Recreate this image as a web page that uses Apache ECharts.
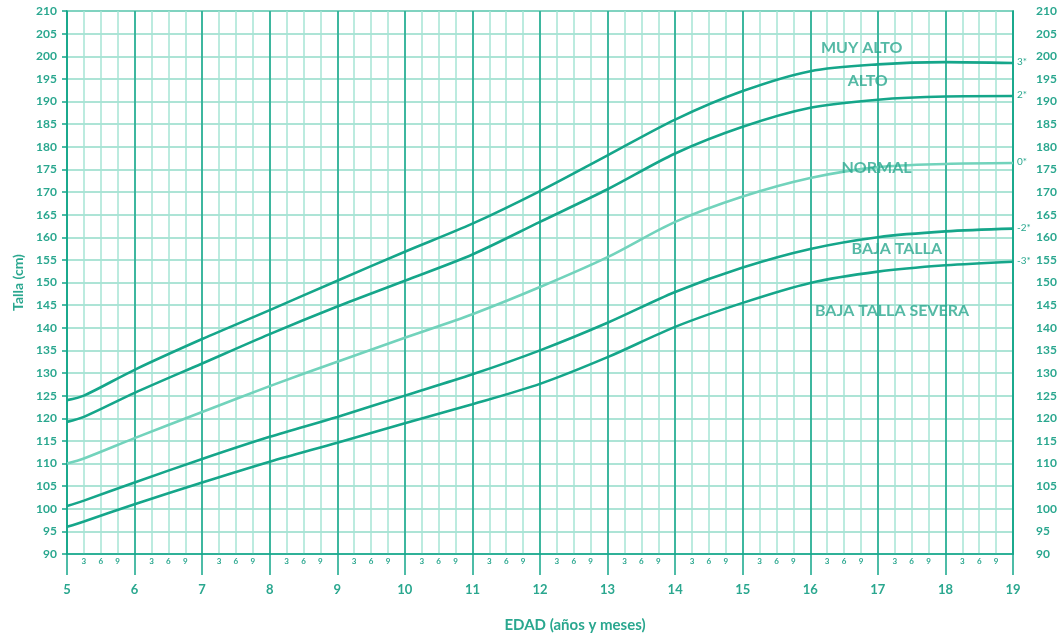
<!DOCTYPE html>
<html>
<head>
<meta charset="utf-8">
<script src="https://cdn.jsdelivr.net/npm/echarts@6/dist/echarts.min.js"></script>
<style>
html,body{margin:0;padding:0;background:#fff;}
#chart{width:1060px;height:638px;}
</style>
</head>
<body>
<div id="chart"></div>
<script>
// ---- data ----
var ages = [5, 5.25, 6, 7, 8, 9, 10, 11, 12, 13, 14, 15, 16, 17, 18, 19];
var muyAlto    = [124, 125, 130.7, 137.5, 143.9, 150.4, 156.8, 163, 170.2, 178.1, 186, 192.3, 196.7, 198.2, 198.7, 198.5];
var alto       = [119.2, 120.3, 125.6, 132.1, 138.6, 144.7, 150.4, 156.2, 163.4, 170.6, 178.5, 184.4, 188.6, 190.4, 191.1, 191.2];
var normal     = [110, 111.1, 115.6, 121.4, 127.1, 132.5, 137.8, 143, 149, 155.6, 163.4, 169, 173.1, 175.5, 176.2, 176.4];
var bajaTalla  = [100.6, 101.8, 105.8, 111, 115.9, 120.3, 125, 129.7, 135, 141.1, 147.9, 153.3, 157.4, 160, 161.3, 161.9];
var bajaSevera = [96, 97.2, 101, 105.8, 110.4, 114.6, 118.9, 123.1, 127.6, 133.5, 140.2, 145.5, 149.9, 152.4, 153.8, 154.6];
var seriesNames = ['MUY ALTO', 'ALTO', 'NORMAL', 'BAJA TALLA', 'BAJA TALLA SEVERA'];
var zScores = ['3*', '2*', '0*', '-2*', '-3*'];
var monthLabels = ['', '3', '6', '9'];
// curve name annotations: [text, age, height]
var annotations = [
  ['MUY ALTO', 16.76, 201.9],
  ['ALTO', 16.85, 194.6],
  ['NORMAL', 16.98, 175.4],
  ['BAJA TALLA', 17.28, 157.5],
  ['BAJA TALLA SEVERA', 17.21, 143.7]
];

// ---- style ----
var DARK = '#15a68a';
var LIGHT_H = '#92dbc8';
var LIGHT_V = '#a6e4d5';
var TEXT = '#2aa78f';
var NORMAL_C = '#72d3bc';
var FONT = 'Lato, "Open Sans", sans-serif';

function zip(vals){ return ages.map(function(a,i){ return [a, vals[i]]; }); }
var allVals = [muyAlto, alto, normal, bajaTalla, bajaSevera];

var series = allVals.map(function(v, i){
  return {
    name: seriesNames[i],
    type: 'line',
    data: zip(v),
    smooth: 0.3,
    symbol: 'none',
    lineStyle: { color: i === 2 ? NORMAL_C : DARK, width: 2.6 },
    endLabel: {
      show: true,
      formatter: zScores[i],
      color: TEXT,
      fontFamily: FONT,
      fontSize: 10,
      distance: 4,
      offset: [0, -1]
    },
    z: 5
  };
});
series.push({
  type: 'scatter',
  data: annotations.map(function(a){ return {value: [a[1], a[2]], name: a[0]}; }),
  symbolSize: 0,
  label: {
    show: true,
    position: 'inside',
    formatter: function(p){ return p.name; },
    color: TEXT,
    fontFamily: FONT,
    fontWeight: 'bold',
    fontSize: 16
  },
  z: 6
});

var chart = echarts.init(document.getElementById('chart'), null, {renderer: 'canvas'});
chart.setOption({
  animation: false,
  grid: { left: 67, top: 11, width: 946, height: 543, show: true, borderColor: DARK, borderWidth: 1.5, containLabel: false },
  xAxis: [
    {
      type: 'value', min: 5, max: 19, interval: 0.25,
      axisLine: { show: true, lineStyle: { color: DARK, width: 1.5 } },
      axisTick: { show: false },
      splitLine: { show: true, lineStyle: { color: LIGHT_V, width: 1.5 } },
      axisLabel: {
        margin: 3, fontSize: 8, fontWeight: 'bold', color: TEXT, fontFamily: FONT,
        formatter: function(v){ var q = Math.round((v - Math.floor(v)) * 4) % 4; return monthLabels[q]; }
      }
    },
    {
      type: 'value', min: 5, max: 19, interval: 1, position: 'bottom',
      axisLine: { show: false },
      axisTick: { show: true, length: 21, lineStyle: { color: DARK, width: 1.5 } },
      splitLine: { show: true, lineStyle: { color: DARK, width: 1.5 } },
      axisLabel: { margin: 29, fontSize: 13, fontWeight: 'bold', color: TEXT, fontFamily: FONT },
      name: 'EDAD (años y meses)', nameLocation: 'middle', nameGap: 64,
      nameTextStyle: { color: TEXT, fontSize: 15, fontWeight: 'bold', fontFamily: FONT, padding: [0, 0, 0, 70] }
    }
  ],
  yAxis: [
    {
      type: 'value', min: 90, max: 210, interval: 5, position: 'left',
      axisLine: { show: true, lineStyle: { color: DARK, width: 1.5 } },
      axisTick: { show: true, length: 5, lineStyle: { color: DARK, width: 1.5 } },
      splitLine: { show: true, lineStyle: { color: LIGHT_H, width: 1.5 } },
      axisLabel: { margin: 10, fontSize: 12, fontWeight: 'bold', color: TEXT, fontFamily: FONT },
      name: 'Talla (cm)', nameLocation: 'middle', nameGap: 42, nameRotate: 90,
      nameTextStyle: { color: TEXT, fontSize: 14, fontWeight: 'bold', fontFamily: FONT }
    },
    {
      type: 'value', min: 90, max: 210, interval: 5, position: 'right',
      axisLine: { show: true, lineStyle: { color: DARK, width: 1.5 } },
      axisTick: { show: false },
      splitLine: { show: false },
      axisLabel: { margin: 23, fontSize: 12, fontWeight: 'bold', color: TEXT, fontFamily: FONT }
    }
  ],
  series: series
});
</script>
</body>
</html>
